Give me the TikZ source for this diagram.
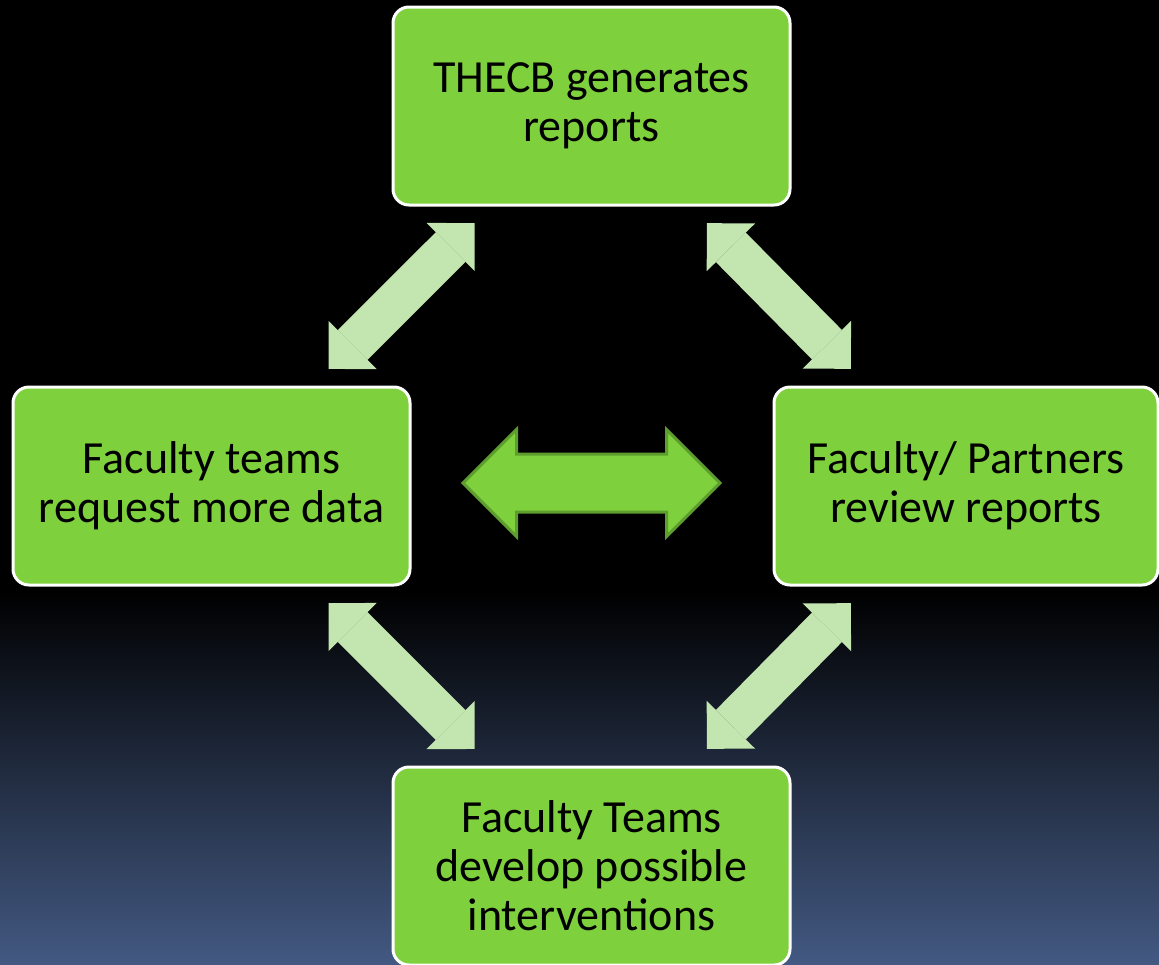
\documentclass[tikz,border=0pt]{standalone}
\usepackage{fontspec}
\setmainfont{Carlito}
\usetikzlibrary{arrows.meta,shapes.arrows}
\definecolor{boxgreen}{RGB}{126,208,61}
\definecolor{linkgreen}{RGB}{195,229,176}
\definecolor{edgegreen}{RGB}{94,158,46}
\definecolor{slate}{RGB}{67,89,130}
\newcommand{\boxwd}{397pt}
\newcommand{\boxht}{198pt}
\newcommand{\gapl}{25.5pt}

\begin{document}
\begin{tikzpicture}[x=1pt,y=-1pt,
    stage/.style={draw=white, line width=3pt, fill=boxgreen, rounded corners=16pt,
      minimum width=\boxwd, minimum height=\boxht, outer sep=0pt, align=center,
      font=\fontsize{46}{49}\selectfont},
    link/.style={draw=linkgreen, line width=42pt, {Triangle[length=34pt,width=68pt,line width=0pt]}-{Triangle[length=34pt,width=68pt,line width=0pt]},
      shorten <=\gapl, shorten >=\gapl}]
        \useasboundingbox (0,0) rectangle (1159,964);
        \fill[black] (0,0) rectangle (1159,964);
        \shade[top color=black, bottom color=slate] (0,590) rectangle (1159,964);

        \node[stage] (thecb) at (591.5,106) {THECB generates\\reports};
        \node[stage] (request) at (211.5,486) {Faculty teams\\request more data};
        \node[stage, minimum width=384pt] (review) at (966,486) {Faculty/ Partners\\review reports};
        \node[stage] (develop) at (591.5,866) {Faculty Teams\\develop possible\\interventions};

        \node[double arrow, fill=boxgreen, draw=edgegreen, line width=3pt, inner xsep=0pt, inner ysep=27.5pt,
          minimum height=257pt, minimum width=104pt, double arrow head extend=24.5pt] (swap) at (591.5,483) {};

        \draw[link] (request) -- (thecb);
        \draw[link] (thecb) -- (review);
        \draw[link] (request) -- (develop);
        \draw[link] (develop) -- (review);

    \end{tikzpicture}
\end{document}
